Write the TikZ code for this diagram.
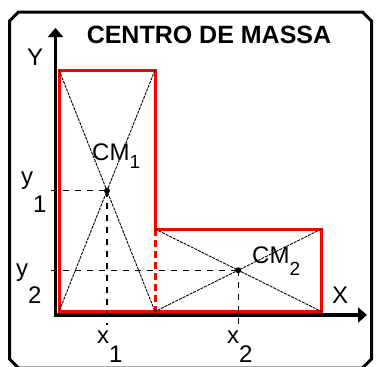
\documentclass[tikz,border=0pt]{standalone}
\usepackage{fontspec}
\setmainfont{Liberation Sans}
\usetikzlibrary{arrows.meta}
\begin{document}
\begin{tikzpicture}[x=1pt,y=-1pt,
  frameline/.style={line width=3pt,black,line join=miter},
  axisline/.style={line width=3.5pt,black,-{Triangle[length=9pt,width=15pt]}},
  redline/.style={line width=3pt,red,line join=miter},
  reddash/.style={line width=3pt,red,dash pattern=on 7pt off 4pt},
  diag/.style={line width=0.9pt,black,dash pattern=on 3pt off 1pt},
  guide/.style={line width=1.1pt,black,dash pattern=on 6pt off 6pt},
  lab/.style={inner sep=0pt,anchor=base west,font=\fontsize{24}{24}\selectfont},
  title/.style={inner sep=0pt,anchor=base,font=\fontsize{25}{25}\selectfont\bfseries},
  cmdot/.style={circle,fill=black,inner sep=0pt,minimum size=6pt}]
\useasboundingbox (0,0) rectangle (376,367);
% frame
\draw[frameline] (9.5,21) -- (18.5,12) -- (362.5,12) -- (371.5,21) -- (371.5,359) -- (362.5,368) -- (18.5,368) -- (9.5,359) -- cycle;
\node[title] (ttl) at (209,43) {CENTRO DE MASSA};
% key points
\coordinate (A) at (59,311.5);
\coordinate (B) at (59,70);
\coordinate (C) at (155,70);
\coordinate (D) at (155,229);
\coordinate (E) at (321.5,229);
\coordinate (F) at (321.5,311.5);
\coordinate (G) at (155,311.5);
\coordinate (CM1) at (107,190.75);
\coordinate (CM2) at (238.25,270.25);
\coordinate (yo) at (55.5,317);
\coordinate (ytip) at (55.5,28);
\coordinate (xo) at (54,315);
\coordinate (xtip) at (367,315);
\coordinate (ytick) at (51,0);
\coordinate (xtick) at (0,325);
% red L shape
\draw[redline] (A) -- (B) -- (C) -- (D) -- (E) -- (F) -- cycle;
\draw[reddash] (D) -- (G);
% diagonals
\draw[diag] (B) -- (G);
\draw[diag] (C) -- (A);
\draw[diag] (D) -- (F);
\draw[diag] (E) -- (G);
% guides
\draw[guide] (ytick |- CM1) -- (CM1);
\draw[guide] (CM1) -- (CM1 |- xtick);
\draw[guide] (ytick |- CM2) -- (CM2);
\draw[guide] (CM2) -- (CM2 |- xtick);
% axes
\draw[axisline] (yo) -- (ytip);
\draw[axisline] (xo) -- (xtip);
% dots
\node[cmdot] (d1) at (CM1) {};
\node[cmdot] (d2) at (CM2) {};
% labels
\node[lab] (Ylab) at (27,65) {Y};
\node[lab] (Xlab) at (332,303) {X};
\node[lab] (cm1) at (92,160) {CM\raisebox{-8pt}{\fontsize{19}{19}\selectfont 1}};
\node[lab] (cm2) at (252,263) {CM\raisebox{-12pt}{\fontsize{19}{19}\selectfont 2}};
\node[lab] (y1) at (21,184) {y\raisebox{-28pt}{1}};
\node[lab] (y2) at (16,276) {y\raisebox{-27pt}{2}};
\node[lab] (x1) at (97,343) {x\raisebox{-19pt}{1}};
\node[lab] (x2) at (227,343) {x\raisebox{-19pt}{2}};
\end{tikzpicture}
\end{document}
